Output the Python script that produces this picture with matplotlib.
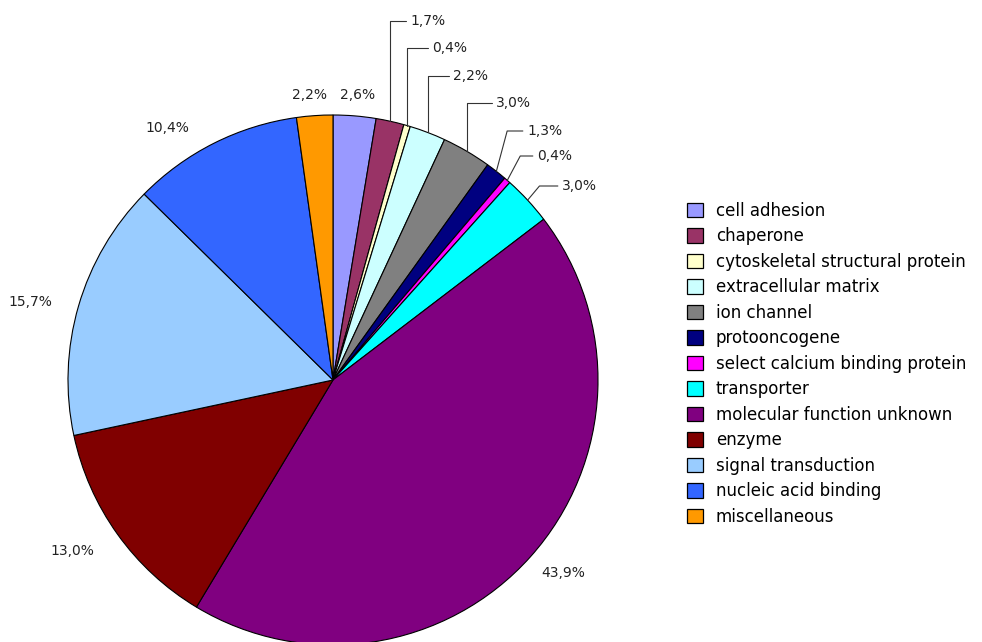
import matplotlib
matplotlib.use('Agg')
import matplotlib.pyplot as plt
from matplotlib.patches import Patch
import numpy as np

# categories and shares (%), clockwise from 12 o'clock
categories = ['cell adhesion', 'chaperone', 'cytoskeletal structural protein',
              'extracellular matrix', 'ion channel', 'protooncogene',
              'select calcium binding protein', 'transporter',
              'molecular function unknown', 'enzyme', 'signal transduction',
              'nucleic acid binding', 'miscellaneous']
values = [2.6, 1.7, 0.4, 2.2, 3.0, 1.3, 0.4, 3.0, 43.9, 13.0, 15.7, 10.4, 2.2]
labels = ['2,6%', '1,7%', '0,4%', '2,2%', '3,0%', '1,3%', '0,4%', '3,0%',
          '43,9%', '13,0%', '15,7%', '10,4%', '2,2%']
colors = ['#9999FF', '#993366', '#FFFFCC', '#CCFFFF', '#808080', '#000080',
          '#FF00FF', '#00FFFF', '#800080', '#800000', '#99CCFF', '#3366FF',
          '#FF9900']

W, H = 982, 642
fig = plt.figure(figsize=(W / 100, H / 100), dpi=100)
ax = fig.add_axes([0, 0, 1, 1])

# pie geometry in pixel units
cx, cy, r = 333, H - 380, 265

wedges, _ = ax.pie(values, colors=colors, startangle=90, counterclock=False,
                   center=(cx, cy), radius=r,
                   wedgeprops=dict(edgecolor='black', linewidth=0.8))
ax.set_xlim(0, W)
ax.set_ylim(0, H)
ax.set_aspect('equal')
ax.set_axis_off()

# label layout: (text x px, text y px, leader angleB or None)
layout = [
    (358, 95, None),
    (410, 21, 90),
    (432, 48, 90),
    (453, 76, 90),
    (496, 103, 90),
    (527, 131, 75),
    (537, 156, 62),
    (562, 186, 50),
    (563, 573, None),
    (72, 551, None),
    (30, 302, None),
    (167, 128, None),
    (310, 95, None),
]

for w, lab, (tx, ty, angB) in zip(wedges, labels, layout):
    mid = np.deg2rad((w.theta1 + w.theta2) / 2)
    ex, ey = cx + r * np.cos(mid), cy + r * np.sin(mid)
    if angB is None:
        ax.text(tx, H - ty, lab, ha='center', va='center', fontsize=10,
                color='#222222')
    else:
        ax.annotate(lab, xy=(ex, ey), xytext=(tx, H - ty), ha='left',
                    va='center', fontsize=10, color='#222222',
                    arrowprops=dict(arrowstyle='-', color='#333333', lw=0.8,
                                    shrinkA=1, shrinkB=0, relpos=(0, 0.5),
                                    connectionstyle=f'angle,angleA=0,angleB={angB},rad=0'))

handles = [Patch(facecolor=c, edgecolor='black', linewidth=0.9) for c in colors]
fig.legend(handles, categories, loc='upper left',
           bbox_to_anchor=(680 / W, 1 - 195 / H), frameon=False,
           fontsize=12, handlelength=1.0, handleheight=1.0,
           handletextpad=0.75, labelspacing=0.45, borderaxespad=0)

fig.savefig('out.png', dpi=100)
